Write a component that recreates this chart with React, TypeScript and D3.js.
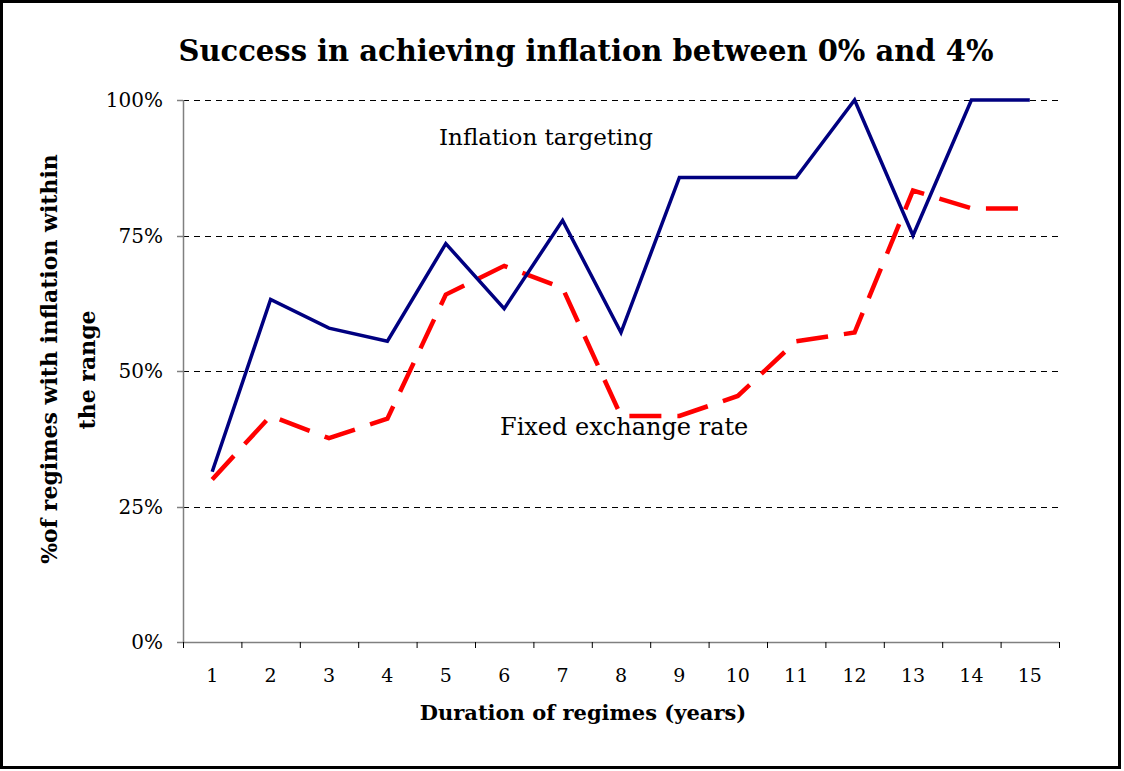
import React from "react";
import * as d3 from "d3";

const WIDTH = 1124;
const HEIGHT = 771;

const years = [1, 2, 3, 4, 5, 6, 7, 8, 9, 10, 11, 12, 13, 14, 15];
const inflationTargeting = [31.4, 63.2, 57.9, 55.5, 73.5, 61.5, 77.8, 57.1, 85.7, 85.7, 85.7, 100, 75, 100, 100];
const fixedExchangeRate = [30.0, 41.7, 37.6, 41.2, 64.1, 69.4, 65.3, 41.7, 41.7, 45.4, 55.5, 57.1, 83.3, 80, 80];
const yTicks = [0, 25, 50, 75, 100];

const margin = { left: 183, right: 1059, top: 100, bottom: 642 };

const serif = "'DejaVu Serif', 'Liberation Serif', serif";

export default function App() {
  const x = d3
    .scaleBand<number>()
    .domain(years)
    .range([margin.left, margin.right]);
  const y = d3.scaleLinear().domain([0, 100]).range([margin.bottom, margin.top]);

  const cx = (d: number) => (x(d) as number) + x.bandwidth() / 2;

  const line = d3
    .line<number>()
    .x((_, i) => cx(years[i]))
    .y((v) => y(v));

  const bounds = years.map((d) => x(d) as number).concat([margin.right]);

  return (
    <svg
      width={WIDTH}
      height={HEIGHT}
      style={{ position: "absolute", left: 0, top: 0, background: "#fff" }}
    >
      <rect x={1.5} y={1.5} width={WIDTH - 6} height={HEIGHT - 5} fill="#fff" stroke="#000" strokeWidth={3} />

      <text
        x={586}
        y={61}
        textAnchor="middle"
        fontFamily={serif}
        fontWeight="bold"
        fontSize={29}
      >
        Success in achieving inflation between 0% and 4%
      </text>

      {/* gridlines */}
      {yTicks
        .filter((t) => t > 0)
        .map((t) => (
          <line
            key={t}
            x1={margin.left}
            x2={margin.right}
            y1={Math.round(y(t)) + 0.5}
            y2={Math.round(y(t)) + 0.5}
            stroke="#000"
            strokeWidth={1}
            strokeDasharray="6 5"
          />
        ))}

      {/* axes */}
      <line x1={margin.left + 0.5} x2={margin.left + 0.5} y1={margin.top} y2={margin.bottom} stroke="#808080" strokeWidth={1.5} />
      <line x1={margin.left} x2={margin.right} y1={margin.bottom + 0.5} y2={margin.bottom + 0.5} stroke="#808080" strokeWidth={1.5} />
      {yTicks.map((t) => (
        <g key={t}>
          <line x1={margin.left - 6} x2={margin.left} y1={Math.round(y(t)) + 0.5} y2={Math.round(y(t)) + 0.5} stroke="#808080" strokeWidth={1.5} />
          <text
            x={163}
            y={y(t)}
            dy="0.36em"
            textAnchor="end"
            fontFamily={serif}
            fontSize={20}
          >
            {t}%
          </text>
        </g>
      ))}
      {bounds.map((b, i) => (
        <line key={i} x1={b + 0.5} x2={b + 0.5} y1={margin.bottom} y2={margin.bottom + 6} stroke="#000" strokeWidth={1} />
      ))}
      {years.map((d) => (
        <text
          key={d}
          x={cx(d)}
          y={682}
          textAnchor="middle"
          fontFamily={serif}
          fontSize={19}
        >
          {d}
        </text>
      ))}

      <text x={583} y={720} textAnchor="middle" fontFamily={serif} fontWeight="bold" fontSize={21}>
        Duration of regimes (years)
      </text>

      <g fontFamily={serif} fontWeight="bold" fontSize={22} textAnchor="middle">
        <text transform="translate(57,359) rotate(-90)">%of regimes with inflation within</text>
        <text transform="translate(95,370) rotate(-90)">the range</text>
      </g>

      <path d={line(fixedExchangeRate) as string} fill="none" stroke="#ff0000" strokeWidth={4.5} strokeDasharray="32 16" />
      <path d={line(inflationTargeting) as string} fill="none" stroke="#000080" strokeWidth={3.5} strokeLinejoin="miter" />

      <g fontFamily={serif}>
        <text x={439} y={145} fontSize={23}>Inflation targeting</text>
        <text x={500} y={435} fontSize={24}>Fixed exchange rate</text>
      </g>
    </svg>
  );
}
